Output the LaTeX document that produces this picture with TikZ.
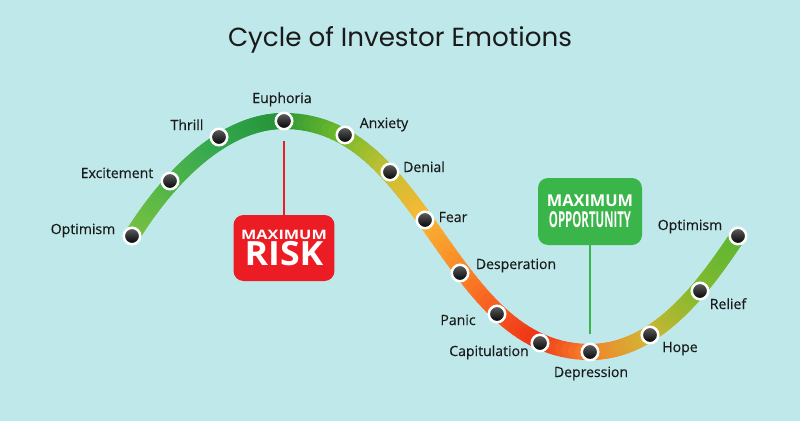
\documentclass[tikz,border=0pt]{standalone}
\usepackage{fontspec}
\setmainfont{Open Sans}
\newfontfamily\titlefont{Poppins}
\newfontfamily\lblfont{Open Sans}[FakeBold=0.35]
\usetikzlibrary{positioning,backgrounds}

\definecolor{bgcyan}{HTML}{BFE8EA}
\definecolor{inkdark}{HTML}{1A1A1A}
\definecolor{riskred}{HTML}{EC1C24}
\definecolor{oppgreen}{HTML}{3AB54A}
% colour stops along the curve (one per point)
\definecolor{stA}{RGB}{124,194,66}
\definecolor{stB}{RGB}{84,182,72}
\definecolor{stC}{RGB}{52,168,80}
\definecolor{stD}{RGB}{38,148,56}
\definecolor{stE}{RGB}{112,186,42}
\definecolor{stF}{RGB}{196,192,52}
\definecolor{stG}{RGB}{248,184,52}
\definecolor{stH}{RGB}{250,140,42}
\definecolor{stI}{RGB}{248,92,32}
\definecolor{stJ}{RGB}{238,52,22}
\definecolor{stK}{RGB}{246,124,42}
\definecolor{stL}{RGB}{212,180,52}
\definecolor{stM}{RGB}{134,186,46}
\definecolor{stN}{RGB}{96,182,50}

\newcommand\bandmix[4]{%
  \pgfmathsetmacro\bandpct{min(100,max(0,100*(\bandpos-#1)/(#2-#1)))}%
  \colorlet{bandfill}{#4!\bandpct!#3}}
\newcommand\setbandfill{%
  \ifdim\bandpos pt<170pt \bandmix{132}{170}{stA}{stB}\else
  \ifdim\bandpos pt<219pt \bandmix{170}{219}{stB}{stC}\else
  \ifdim\bandpos pt<284pt \bandmix{219}{284}{stC}{stD}\else
  \ifdim\bandpos pt<345pt \bandmix{284}{345}{stD}{stE}\else
  \ifdim\bandpos pt<390pt \bandmix{345}{390}{stE}{stF}\else
  \ifdim\bandpos pt<425pt \bandmix{390}{425}{stF}{stG}\else
  \ifdim\bandpos pt<460pt \bandmix{425}{460}{stG}{stH}\else
  \ifdim\bandpos pt<497pt \bandmix{460}{497}{stH}{stI}\else
  \ifdim\bandpos pt<540pt \bandmix{497}{540}{stI}{stJ}\else
  \ifdim\bandpos pt<590pt \bandmix{540}{590}{stJ}{stK}\else
  \ifdim\bandpos pt<650pt \bandmix{590}{650}{stK}{stL}\else
  \ifdim\bandpos pt<700pt \bandmix{650}{700}{stL}{stM}\else
  \bandmix{700}{738}{stM}{stN}%
  \fi\fi\fi\fi\fi\fi\fi\fi\fi\fi\fi\fi}

% one cubic piece of the band, cut in short coloured strokes
\newcommand\bandpiece[8]{%
  \foreach \i in {1,...,60}{%
    \pgfmathsetmacro\ta{(\i-1)/60}%
    \pgfmathsetmacro\tb{\i/60}%
    \pgfmathsetmacro\xa{(1-\ta)*(1-\ta)*(1-\ta)*#1+3*(1-\ta)*(1-\ta)*\ta*#3+3*(1-\ta)*\ta*\ta*#5+\ta*\ta*\ta*#7}%
    \pgfmathsetmacro\ya{(1-\ta)*(1-\ta)*(1-\ta)*#2+3*(1-\ta)*(1-\ta)*\ta*#4+3*(1-\ta)*\ta*\ta*#6+\ta*\ta*\ta*#8}%
    \pgfmathsetmacro\xb{(1-\tb)*(1-\tb)*(1-\tb)*#1+3*(1-\tb)*(1-\tb)*\tb*#3+3*(1-\tb)*\tb*\tb*#5+\tb*\tb*\tb*#7}%
    \pgfmathsetmacro\yb{(1-\tb)*(1-\tb)*(1-\tb)*#2+3*(1-\tb)*(1-\tb)*\tb*#4+3*(1-\tb)*\tb*\tb*#6+\tb*\tb*\tb*#8}%
    \pgfmathsetmacro\bandpos{(\xa+\xb)/2}%
    \setbandfill
    \draw[bandfill, line width=0.32cm, line cap=round] (\xa,\ya) -- (\xb,\yb);
  }}

\tikzset{
  dot/.style={circle, inner sep=0pt, minimum size=0.33cm, draw=white,
    line width=0.05cm, top color=black!62, bottom color=black},
  lbl/.style={font=\lblfont\fontsize{8}{9}\selectfont, text=inkdark, anchor=base},
  callout/.style={rounded corners=0.2cm, text=white, font=\bfseries,
    align=center, inner sep=0pt}
}

\begin{document}
\begin{tikzpicture}[x=0.02cm, y=-0.02cm]
  \useasboundingbox (0,0) rectangle (800,420);

  \node[font=\titlefont\fontsize{14.9}{16}\selectfont, text=inkdark, anchor=base]
    (title) at (400,46) {Cycle of Investor Emotions};

  % --- points on the cycle ---
  \node[dot] (optA)    at (132,236) {};
  \node[dot] (excite)  at (170,181) {};
  \node[dot] (thrill)  at (219,137) {};
  \node[dot] (euph)    at (284,121) {};
  \node[dot] (anxiety) at (345,135) {};
  \node[dot] (denial)  at (390,172) {};
  \node[dot] (fear)    at (425,220) {};
  \node[dot] (desper)  at (460,273) {};
  \node[dot] (panic)   at (497,314) {};
  \node[dot] (capit)   at (540,343) {};
  \node[dot] (depress) at (590,352) {};
  \node[dot] (hope)    at (650,335) {};
  \node[dot] (relief)  at (700,291) {};
  \node[dot] (optB)    at (738,236) {};

  \begin{pgfonlayer}{background}
    \fill[bgcyan] (-10,-10) rectangle (810,430);
    \bandpiece{132}{236}{170}{175}{225}{121}{284}{121}
    \bandpiece{284}{121}{427}{121}{447}{352}{590}{352}
    \bandpiece{590}{352}{660}{352}{708}{280}{738}{236}
  \end{pgfonlayer}

  % --- labels ---
  \node[lbl] (optAlbl)    at (83,234)  {Optimism};
  \node[lbl] (excitelbl)  at (117,178) {Excitement};
  \node[lbl] (thrilllbl)  at (187,130) {Thrill};
  \node[lbl] (euphlbl)    at (282,103) {Euphoria};
  \node[lbl] (anxietylbl) at (384,128) {Anxiety};
  \node[lbl] (deniallbl)  at (424,172) {Denial};
  \node[lbl] (fearlbl)    at (453,222) {Fear};
  \node[lbl] (desperlbl)  at (516,269) {Desperation};
  \node[lbl] (paniclbl)   at (458,325) {Panic};
  \node[lbl] (capitlbl)   at (489,356) {Capitulation};
  \node[lbl] (depresslbl) at (591,377) {Depression};
  \node[lbl] (hopelbl)    at (680,352) {Hope};
  \node[lbl] (relieflbl)  at (728,309) {Relief};
  \node[lbl] (optBlbl)    at (690,230) {Optimism};

  % --- callouts ---
  \node[callout, fill=riskred, minimum width=2.02cm, minimum height=1.32cm]
    (risk) at (284,248)
    {\fontsize{7.4}{9}\selectfont\scalebox{1.25}[1]{MAXIMUM}\\
     \fontsize{19}{16.6}\selectfont\scalebox{1.07}[1]{RISK}};
  \node[callout, fill=oppgreen, minimum width=2.08cm, minimum height=1.34cm]
    (oppo) at (590,211.5)
    {\fontsize{9.3}{10}\selectfont MAXIMUM\\
     \fontsize{12.5}{11.3}\selectfont\scalebox{0.52}[1]{OPPORTUNITY}};

  \draw[riskred, line width=0.03cm, shorten <=0.2cm] (euph) -- (risk);
  \draw[oppgreen, line width=0.04cm, shorten >=0.17cm] (oppo) -- (depress);
\end{tikzpicture}
\end{document}
